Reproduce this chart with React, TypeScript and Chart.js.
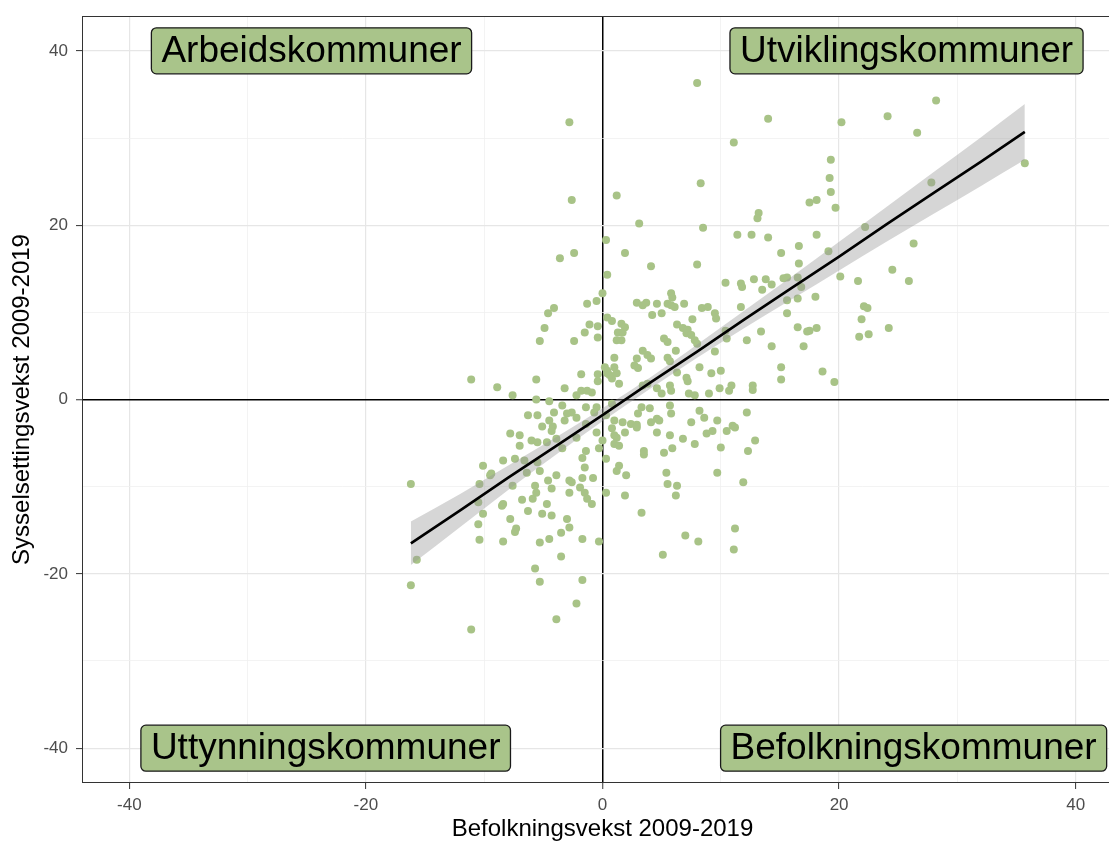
import React, { useEffect, useRef } from 'react';
import { Chart, registerables } from 'chart.js';

Chart.register(...registerables);

const FONT = '"Liberation Sans", Arial, Helvetica, sans-serif';

// Befolkningsvekst 2009-2019 (x) per kommune
const popGrowth = [
  8.0, -2.8, 14.0, 24.1, 28.2, 26.6, 20.2, 11.1, 8.3, 1.2,
  -2.6, 3.1, 8.5, 0.3, 1.9, -2.4, -3.6, 13.2, 13.1, 11.4,
  12.6, 14.0, 15.1, 16.6, 17.5, 18.1, 18.1, 19.3, 19.2, 19.3,
  19.7, 19.1, 22.2, 27.8, 26.3, 35.7, 24.5, 25.9, 20.1, 21.6,
  18.0, 22.1, 22.4, 21.9, 21.7, 22.5, 24.2, 18.1, 17.5, 18.6, 19.6,
  0.4, 0.0, -1.3, -0.5, 0.4, -4.6, -4.1, -4.9, -5.3, -2.4, -1.5, -1.1, -0.4, -0.4,
  4.1, 8.0, 2.9, 3.7, 3.4, 4.6, 5.8, 5.9, 5.5, 5.8, 6.1, 6.9, 4.2, 5.0, 8.4, 8.9, 9.5, 9.6, 7.6, 10.4, 11.7, 11.8,
  12.8, 13.8, 13.5, 14.3, 15.3, 15.6, 16.5, 16.8, 15.6, 16.5,
  15.6, 16.6, 0.8, 1.6, 1.9, 1.3, 1.7, 1.2, 1.6,
  6.3, 6.8, 7.2, 7.1, 7.5, 5.2, 5.5,
  7.8, 8.0, 6.2, 9.5, 10.4, 10.5, 12.2, 13.4, 14.3, 16.5, 17.3,
  17.0, 15.1, 15.1, 12.7, 12.7, 10.9, 10.7, 10.0, 9.2, 8.2, 7.1, 7.2, 6.3, 5.5, 5.7, 3.8, 4.1, 3.4, 2.9, 2.7, 3.0, 1.0, 1.0, 0.2, 0.4, 0.8, 1.4, 3.4, 3.8, 4.6, 5.0, 5.7, 5.8, 7.3, 7.8, 9.0, 9.9,
  12.2, 3.3, 4.0, 3.0, 4.6, 5.7, 5.8, 8.2, 8.6, 9.7, 11.0, 0.3, 1.0, 1.7, 2.4, 2.9, -11.1, -8.9, -7.6, -5.6, -5.6, -4.5, -3.2, -1.8, -2.2, -1.8, -1.3, -0.9, -0.4, -0.4, 0.4, -3.4, -4.1, -2.6, -1.4, -6.3, -5.5, -5.1, -4.2, -3.2, -2.2, -0.5, 0.6, 1.2,
  -4.5, -4.3, -3.0, -0.7, 0.8,
  0.8, 1.9, -0.5, -1.4, -2.2, -3.4, -3.9, -6.0, -7.0, -7.8, -7.0, -8.4, -7.4, -6.6, -5.5, -10.1, -10.4, -9.4, -7.6, -5.7, -5.3, -4.6, -3.9, -4.3, -2.8, -1.9, -1.7, -0.8, -1.4, -1.7, -0.3, 0.3, 1.2, 1.2, 2.0, 1.4, 1.9, -5.9, -6.8, -4.7, -8.4, -6.3, -5.1, -4.3, -3.0, -7.8, -10.1, -2.8, -7.3, -16.2, -15.7, -16.2, -11.1, -9.5, -5.5, -4.7, -6.4, -10.5, -10.5, -10.4, -8.5,
  -8.4, -7.4, -5.6, -3.5, -4.5, -5.3, -3.5, -5.7, -5.3, -3.9, -2.2, -1.7, -1.7, -0.3, -2.6, -2.8, -1.5, -1.3, -0.9, -1.5, 0.3, 3.3, 5.1, 7.0, 8.1, 11.1, 11.2, 11.9, 9.7, 5.4, 5.5, 6.3, 6.2,
  0.0, 1.0, 1.0, 1.4, 3.5, 3.5, 5.2, 5.9, 5.7, 4.6, 6.8, 7.8, 10.0, 12.3, 12.9, 11.2, 10.5, 9.3, 8.8, 4.1, 4.8, 7.5, 2.9, 11.7,
];

// Sysselsettingsvekst 2009-2019 (y) per kommune
const empGrowth = [
  36.3, 31.8, 32.2, 32.5, 34.3, 30.6, 31.8, 29.5, 24.8, 23.4,
  22.9, 20.2, 19.7, 18.3, 16.8, 16.8, 16.2, 21.4, 20.8, 18.9,
  18.9, 18.6, 16.8, 17.6, 22.6, 22.9, 18.9, 27.5, 25.4, 23.8,
  22.0, 17.0, 19.8, 24.9, 17.9, 27.1, 14.9, 13.6, 14.1, 13.6,
  11.8, 10.7, 10.5, 9.2, 7.2, 7.5, 8.2, 8.2, 7.9, 3.2, 2.0,
  14.3, 12.2, 11.0, 11.3, 9.4, 9.9, 10.5, 8.2, 6.7, 6.7, 7.7, 8.6, 8.4, 7.1,
  15.3, 15.5, 11.1, 11.1, 10.8, 11.0, 12.2, 11.7, 11.0, 10.8, 10.6, 11.0, 9.7, 9.9, 10.5, 10.6, 9.9, 9.3, 9.2, 13.4, 13.3, 12.9,
  13.8, 13.8, 12.6, 13.2, 13.9, 14.0, 14.0, 12.9, 11.4, 11.6,
  9.9, 15.6, 9.0, 8.7, 8.3, 7.7, 7.7, 6.8, 6.8,
  8.6, 8.2, 8.0, 7.6, 7.4, 7.0, 6.6,
  6.8, 6.4, 5.6, 5.5, 7.9, 7.0, 6.8, 7.8, 6.1, 8.3, 7.8,
  6.1, 3.7, 2.3, 1.6, 1.1, 1.6, 1.0, 3.3, 3.0, 3.7, 2.5, 2.1, 3.1, 4.8, 4.4, 5.1, 4.7, 5.6, 4.7, 3.9, 3.6, 4.8, 3.7, 3.7, 3.0, 2.4, 1.8, 1.6, 1.8, 1.3, 0.7, 1.6, 1.0, 0.7, 0.5, 0.7, 1.3,
  -1.5, -0.9, -1.0, -1.6, -2.2, -0.7, -1.6, -1.3, -2.1, -2.4, -3.0, -1.8, -2.4, -2.6, -2.8, -2.9, 2.3, 1.4, 0.5, 2.3, 0.0, -0.2, 1.3, 2.9, 0.5, 1.0, 1.0, 0.8, 2.9, 2.1, 3.3, -0.7, -1.5, -1.5, -0.9, -1.8, -1.8, -3.1, -3.1, -2.4, -2.1, -0.9, 2.8, 3.0,
  -2.4, -3.6, -1.6, -1.5, -0.5,
  -3.3, -3.8, -3.8, -2.8, -4.4, -5.6, -4.5, -4.7, -4.1, -3.9, -5.3, -7.0, -6.8, -7.0, -7.2, -7.6, -9.7, -8.5, -9.9, -9.9, -8.2, -9.3, -8.7, -10.2, -9.3, -10.1, -9.0, -9.0, -5.9, -6.7, -5.6, -6.8, -4.4, -8.2, -8.7, -7.6, -11.0, -11.4, -11.5, -12.0, -12.0, -12.8, -13.1, -13.3, -13.7, -13.7, -13.1, -14.7, -14.8, -9.7, -18.4, -21.3, -26.4, -8.7, -4.9, -4.9, -8.4, -11.8, -14.3, -16.1, -12.2,
  -16.3, -15.2, -10.7, -15.3, -16.0, -16.4, -18.0, -19.4, -20.9, -25.2, -23.4, -20.7, -16.0, -16.3, -9.5, -10.7, -10.7, -11.4, -12.0, -7.8, -10.7, -13.0, -17.8, -15.6, -16.3, -17.2, -14.8, -9.5, -8.4, -8.4, -9.7, -9.9, -11.0,
  -4.7, -4.1, -5.1, -5.3, -5.9, -6.3, -6.1, -5.6, -4.1, -3.8, -4.5, -5.1, -5.5, -5.9, -4.7, -3.2, -3.6, -3.6, -3.9, -2.6, -2.4, -2.6, -3.2, 10.6,
];

// Lineær trend med konfidensintervall (lest fra figuren)
const fitX = [-16.2, -12, -8, -4, 0, 4, 8, 12, 16, 20, 24, 28, 32, 35.7];
const fitY = [-16.5, -12.7, -9.0, -5.4, -1.8, 1.9, 5.5, 9.2, 12.8, 16.4, 20.1, 23.7, 27.3, 30.7];
const fitLow = [-19.0, -14.6, -10.4, -6.4, -2.5, 1.2, 4.8, 8.2, 11.5, 14.8, 18.1, 21.3, 24.5, 27.5];
const fitHigh = [-14.0, -10.8, -7.6, -4.4, -1.0, 2.5, 6.3, 10.2, 14.1, 18.1, 22.1, 26.1, 30.1, 33.9];

const quadrantLabels = ['Arbeidskommuner', 'Utviklingskommuner', 'Uttynningskommuner', 'Befolkningskommuner'];
const labelX = [-24.6, 25.7, -23.4, 26.3];
const labelY = [40, 40, -40, -40];

const xTitle = 'Befolkningsvekst 2009-2019';
const yTitle = 'Sysselsettingsvekst 2009-2019';
const xRange = [-44, 44];
const yRange = [-44, 44];
const xTicks = [-40, -30, -20, -10, 0, 10, 20, 30, 40];
const yTicks = [-40, -30, -20, -10, 0, 10, 20, 30, 40];
const majorStep = 20;

const POINT_COLOR = '#a8c387';
const LABEL_FILL = '#a9c48a';

const isMajor = (v: number) => Math.abs(v / majorStep - Math.round(v / majorStep)) < 1e-6;

const panelPlugin = {
  id: 'panelAndLabels',
  afterDatasetsDraw(chart: any) {
    const { ctx, chartArea: a, scales } = chart;
    ctx.save();
    ctx.strokeStyle = '#333333';
    ctx.lineWidth = 1;
    ctx.strokeRect(a.left + 0.5, a.top + 0.5, a.right - a.left - 1, a.bottom - a.top - 1);

    ctx.font = `37px ${FONT}`;
    quadrantLabels.forEach((t, i) => {
      const cx = scales.x.getPixelForValue(labelX[i]);
      const cy = scales.y.getPixelForValue(labelY[i]);
      const w = ctx.measureText(t).width + 20;
      const h = 46;
      const x0 = cx - w / 2;
      const y0 = cy - h / 2;
      ctx.beginPath();
      if ((ctx as any).roundRect) {
        (ctx as any).roundRect(x0, y0, w, h, 5);
      } else {
        ctx.rect(x0, y0, w, h);
      }
      ctx.fillStyle = LABEL_FILL;
      ctx.fill();
      ctx.strokeStyle = '#1a1a1a';
      ctx.lineWidth = 1.3;
      ctx.stroke();
      ctx.fillStyle = '#000000';
      ctx.textAlign = 'center';
      ctx.textBaseline = 'middle';
      ctx.fillText(t, cx, cy + 1);
    });
    ctx.restore();
  },
};

function gridColor(c: any) {
  const v = c.tick ? c.tick.value : NaN;
  if (v === 0) return '#000000';
  return isMajor(v) ? '#e6e6e6' : '#f0f0f0';
}
function gridWidth(c: any) {
  const v = c.tick ? c.tick.value : NaN;
  if (v === 0) return 1.5;
  return isMajor(v) ? 1.2 : 0.8;
}
function tickColor(c: any) {
  const v = c.tick ? c.tick.value : NaN;
  return isMajor(v) ? '#333333' : 'rgba(0,0,0,0)';
}

// The original figure is cropped at its right edge; the canvas is slightly wider
// than the page and the overflow is hidden.
const CANVAS_W = 1127;
const CANVAS_H = 845;

export default function App() {
  const ref = useRef<HTMLCanvasElement>(null);

  useEffect(() => {
    document.body.style.margin = '0';
    const canvas = ref.current;
    if (!canvas) return;

    const points = popGrowth.map((x, i) => ({ x, y: empGrowth[i] }));
    const line = fitX.map((x, i) => ({ x, y: fitY[i] }));
    const upper = fitX.map((x, i) => ({ x, y: fitHigh[i] }));
    const lower = fitX.map((x, i) => ({ x, y: fitLow[i] }));

    const tickFont = { family: FONT, size: 17 };
    const titleFont = { family: FONT, size: 24, lineHeight: 1.2 };

    const chart = new Chart(canvas, {
      type: 'scatter',
      data: {
        datasets: [
          {
            type: 'line',
            data: line,
            borderColor: '#000000',
            borderWidth: 2.6,
            pointRadius: 0,
            fill: false,
            tension: 0,
            order: 0,
          } as any,
          {
            type: 'line',
            data: upper,
            borderWidth: 0,
            borderColor: 'rgba(0,0,0,0)',
            backgroundColor: 'rgba(153,153,153,0.4)',
            pointRadius: 0,
            fill: '+1',
            cubicInterpolationMode: 'monotone',
            order: 1,
          } as any,
          {
            type: 'line',
            data: lower,
            borderWidth: 0,
            borderColor: 'rgba(0,0,0,0)',
            pointRadius: 0,
            fill: false,
            cubicInterpolationMode: 'monotone',
            order: 2,
          } as any,
          {
            type: 'scatter',
            data: points,
            pointRadius: 4,
            pointBorderWidth: 0,
            pointBackgroundColor: POINT_COLOR,
            backgroundColor: POINT_COLOR,
            borderColor: POINT_COLOR,
            order: 3,
          } as any,
        ],
      },
      options: {
        responsive: false,
        animation: false,
        devicePixelRatio: 1,
        events: [],
        layout: { padding: { left: 0, right: 2, top: 16, bottom: 0 } },
        plugins: {
          legend: { display: false },
          tooltip: { enabled: false },
        },
        scales: {
          x: {
            type: 'linear',
            min: xRange[0],
            max: xRange[1],
            afterBuildTicks: (s: any) => {
              s.ticks = xTicks.map((v) => ({ value: v }));
            },
            ticks: {
              autoSkip: false,
              maxRotation: 0,
              padding: 6,
              color: '#4d4d4d',
              font: tickFont,
              callback: (v: any) => (isMajor(Number(v)) ? String(Math.round(Number(v))) : ''),
            },
            grid: {
              color: gridColor,
              lineWidth: gridWidth,
              tickColor: tickColor,
              tickWidth: 1,
              tickLength: 6,
            },
            border: { display: false },
            title: {
              display: true,
              text: xTitle,
              color: '#000000',
              font: titleFont,
              padding: { top: 0, bottom: 1 },
            },
            afterFit: (s: any) => {
              s.height = 62;
              s.paddingLeft = 0;
              s.paddingRight = 0;
            },
          } as any,
          y: {
            type: 'linear',
            min: yRange[0],
            max: yRange[1],
            afterBuildTicks: (s: any) => {
              s.ticks = yTicks.map((v) => ({ value: v }));
            },
            ticks: {
              autoSkip: false,
              padding: 8,
              color: '#4d4d4d',
              font: tickFont,
              callback: (v: any) => (isMajor(Number(v)) ? String(Math.round(Number(v))) : ''),
            },
            grid: {
              color: gridColor,
              lineWidth: gridWidth,
              tickColor: tickColor,
              tickWidth: 1,
              tickLength: 6,
            },
            border: { display: false },
            title: {
              display: true,
              text: yTitle,
              color: '#000000',
              font: titleFont,
              padding: { top: 8, bottom: 0 },
            },
            afterFit: (s: any) => {
              s.width = 82;
              s.paddingTop = 0;
              s.paddingBottom = 0;
            },
          } as any,
        },
      } as any,
      plugins: [panelPlugin],
    });

    return () => chart.destroy();
  }, []);

  return (
    <div style={{ width: 1109, height: 845, overflow: 'hidden', position: 'relative' }}>
      <canvas
        ref={ref}
        width={CANVAS_W}
        height={CANVAS_H}
        style={{ display: 'block', width: CANVAS_W, height: CANVAS_H }}
      />
    </div>
  );
}
